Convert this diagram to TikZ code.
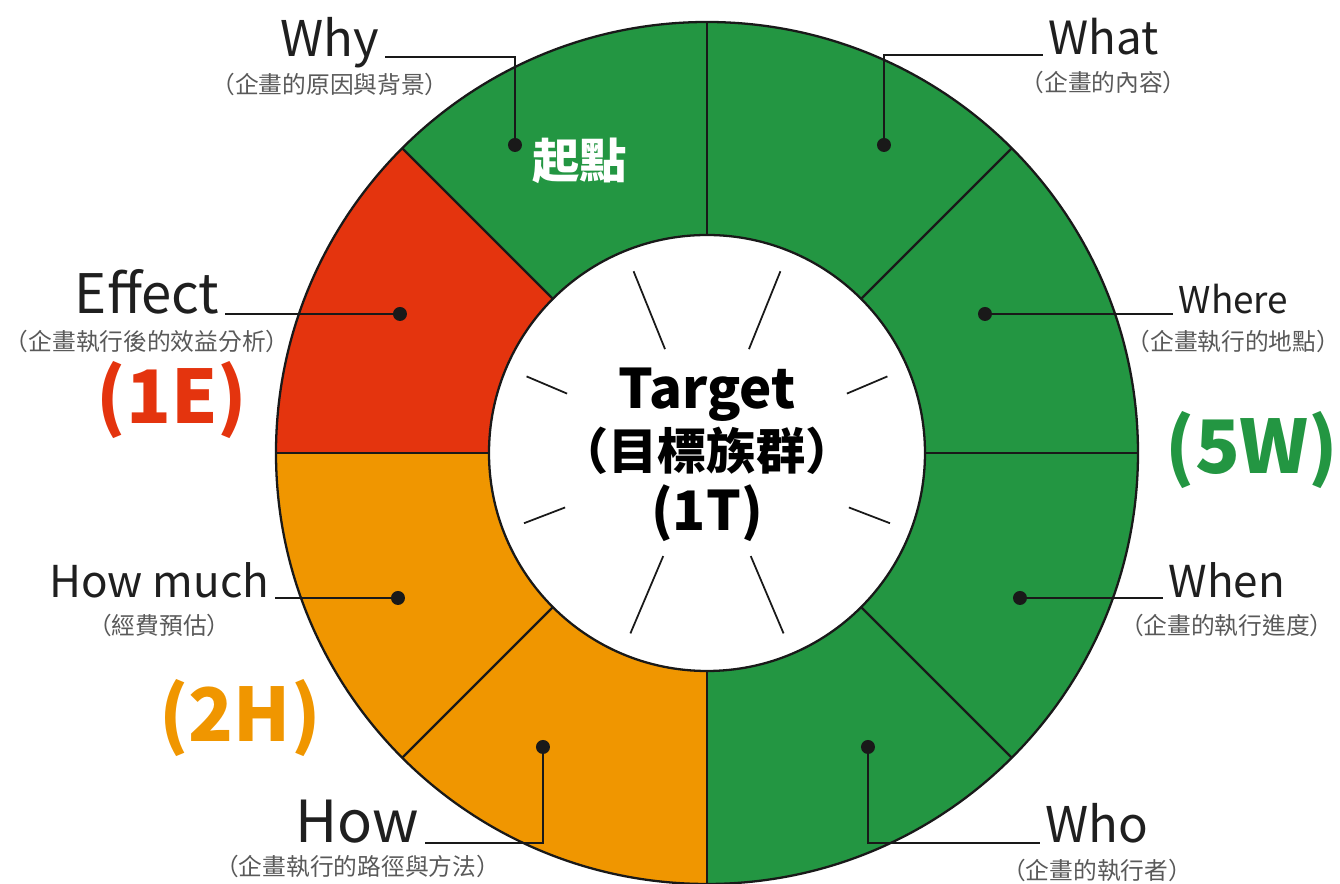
\documentclass[tikz,border=0pt]{standalone}
\usepackage{fontspec}
\setmainfont{Noto Sans CJK TC}
\usetikzlibrary{positioning}
\definecolor{wGreen}{RGB}{35,150,66}
\definecolor{wRed}{RGB}{228,52,14}
\definecolor{wOrange}{RGB}{240,150,0}
\newcommand{\fsz}[1]{\fontsize{#1}{#1}\selectfont}

\begin{document}
\begin{tikzpicture}[
    x=0.02cm,y=0.02cm,
    ring/.style={draw=black!90,line width=1.3pt},
    dotnode/.style={circle,fill=black!90,inner sep=0pt,minimum size=0.28cm},
    lead/.style={line width=1.1pt,black!90},
    lbl/.style={inner xsep=3pt,inner ysep=0pt,text=black!88},
    sub/.style={text=black!65,font=\fsz{13.5},inner sep=1pt},
    grp/.style={font=\bfseries\fsz{42}},
    spoke/.style={line width=1pt,black!90}
  ]
  \useasboundingbox (-707,-431) rectangle (633,453);

  % ring
  \foreach \a/\c in {0/wGreen,45/wGreen,90/wGreen,135/wRed,
                     180/wOrange,225/wOrange,270/wGreen,315/wGreen}
    \fill[\c] (0,0) -- (\a:431) arc[start angle=\a,delta angle=45,radius=431] -- cycle;
  \foreach \a in {0,45,...,315}
    \draw[ring] (\a:218) -- (\a:431);
  \draw[ring] (0,0) circle[radius=431];
  \draw[ring,fill=white] (0,0) circle[radius=218];
  \foreach \a/\r in {112/112,68/112,157/152,23/152,201/152,339/152,247/112,293/112}
    \draw[spoke] (\a:\r) -- (\a:196);

  % centre
  \node[font=\bfseries\fsz{31}] (tgt) at (0,58) {Target};
  \node[font=\bfseries\fsz{28}] (tgtzh) at (0,2) {（目標族群）};
  \node[font=\bfseries\fsz{31}] (tgtn) at (0,-60) {(1T)};
  \node[font=\bfseries\fsz{27},text=white] (start) at (-127,292) {起點};

  % dots
  \node[dotnode] (dwhy) at (-192,308) {};
  \node[dotnode] (dwhat) at (177,308) {};
  \node[dotnode] (dwhere) at (278,139) {};
  \node[dotnode] (dwhen) at (313,-145) {};
  \node[dotnode] (dwho) at (161,-294) {};
  \node[dotnode] (dhow) at (-164,-294) {};
  \node[dotnode] (dmuch) at (-309,-145) {};
  \node[dotnode] (deff) at (-307,139) {};

  % labels
  \node[lbl,anchor=base east,font=\fsz{28}] (why) at (-322,396) {Why};
  \node[sub,below=8pt of why.base] (whysub) {（企畫的原因與背景）};
  \node[lbl,anchor=base west,font=\fsz{26}] (what) at (336,398) {What};
  \node[sub,below=8pt of what.base] (whatsub) {（企畫的內容）};
  \node[lbl,anchor=base west,font=\fsz{21}] (where) at (466,139) {Where};
  \node[sub,below=8pt of where.base] (wheresub) {（企畫執行的地點）};
  \node[lbl,anchor=base west,font=\fsz{25}] (when) at (456,-145) {When};
  \node[sub,below=8pt of when.base] (whensub) {（企畫的執行進度）};
  \node[lbl,anchor=base west,font=\fsz{28}] (who) at (333,-390) {Who};
  \node[sub,below=8pt of who.base] (whosub) {（企畫的執行者）};
  \node[lbl,anchor=base east,font=\fsz{33}] (how) at (-282,-390) {How};
  \node[sub,below=6pt of how.base] (howsub) {（企畫執行的路徑與方法）};
  \node[lbl,anchor=base east,font=\fsz{25}] (much) at (-432,-145) {How much};
  \node[sub,below=8pt of much.base] (muchsub) {（經費預估）};
  \node[lbl,anchor=base east,font=\fsz{31}] (eff) at (-482,139) {Effect};
  \node[sub,below=8pt of eff.base] (effsub) {（企畫執行後的效益分析）};

  % groups
  \node[grp,text=wRed] (g1e) at (-535,53) {(1E)};
  \node[grp,text=wGreen] (g5w) at (545,3) {(5W)};
  \node[grp,text=wOrange] (g2h) at (-467,-265) {(2H)};

  % leaders
  \draw[lead] (dwhy.center) |- (why.base east);
  \draw[lead] (dwhat.center) |- (what.base west);
  \draw[lead] (dwhere.center) -- (where.base west);
  \draw[lead] (dwhen.center) -- (when.base west);
  \draw[lead] (dwho.center) |- (who.base west);
  \draw[lead] (dhow.center) |- (how.base east);
  \draw[lead] (dmuch.center) -- (much.base east);
  \draw[lead] (deff.center) -- (eff.base east);
\end{tikzpicture}
\end{document}
